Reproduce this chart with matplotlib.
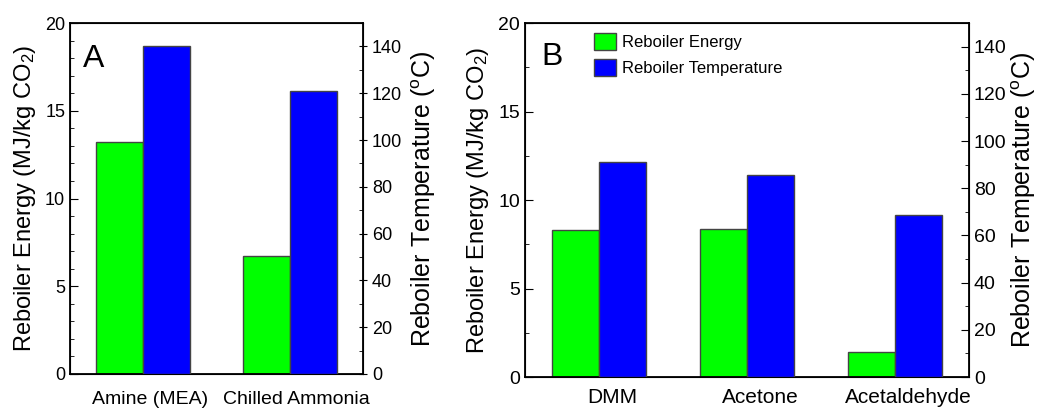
import numpy as np
import matplotlib
matplotlib.use('Agg')
import matplotlib.pyplot as plt
from matplotlib.patches import Patch
from matplotlib.ticker import MultipleLocator

plt.rcParams['font.family'] = ['Liberation Sans', 'DejaVu Sans']
plt.rcParams['mathtext.fontset'] = 'custom'
plt.rcParams['mathtext.rm'] = 'Liberation Sans'
plt.rcParams['mathtext.it'] = 'Liberation Sans:italic'

# ── Data ───────────────────────────────────────────────────────────────────
cats_a   = ['Amine (MEA)', 'Chilled Ammonia']
energy_a = [13.2, 6.7]
temp_a   = [140, 121]

cats_b   = ['DMM', 'Acetone', 'Acetaldehyde']
energy_b = [8.3, 8.35, 1.4]
temp_b   = [91, 85.5, 68.5]

GREEN = '#00FF00'
BLUE  = '#0000FF'
EDGE  = '#444444'
W     = 0.32

fig = plt.figure(figsize=(10.4, 4.09), dpi=100)


def panel(rect, cats, energy, temp, letter, letter_xy, minor_left, right_dir,
          xfs, yfs, lab_off, xpad, rpad, legend=False):
    ax = fig.add_axes(rect)
    x = np.arange(len(cats))
    ax.bar(x - W / 2, energy, W, color=GREEN, edgecolor=EDGE, linewidth=1)
    ax.set_xlim(-0.5, len(cats) - 0.5)
    ax.set_ylim(0, 20)
    ax.yaxis.set_major_locator(MultipleLocator(5))
    ax.yaxis.set_minor_locator(MultipleLocator(minor_left))
    ax.set_xticks(x + lab_off)
    ax.set_xticklabels(cats, fontsize=xfs)
    ax.tick_params(axis='x', length=0, pad=xpad)
    ax.tick_params(axis='y', which='major', direction='in', length=6, labelsize=yfs)
    ax.tick_params(axis='y', which='minor', direction='in', length=3)
    ax.set_ylabel('Reboiler Energy (MJ/kg CO$_2$)', fontsize=17, labelpad=5)
    for s in ax.spines.values():
        s.set_linewidth(1.3)

    ax2 = ax.twinx()
    ax2.bar(x + W / 2, temp, W, color=BLUE, edgecolor=EDGE, linewidth=1)
    ax2.set_ylim(0, 150)
    ax2.yaxis.set_major_locator(MultipleLocator(20))
    ax2.yaxis.set_minor_locator(MultipleLocator(10))
    ax2.tick_params(axis='y', which='major', direction=right_dir, length=6, labelsize=yfs)
    ax2.tick_params(axis='y', which='minor', direction='in', length=3)
    ax2.set_ylabel('Reboiler Temperature ($^{\\mathrm{o}}$C)', fontsize=18, labelpad=rpad)

    ax.text(letter_xy[0], letter_xy[1], letter, transform=ax.transAxes, fontsize=23)

    if legend:
        handles = [Patch(facecolor=GREEN, edgecolor=EDGE, label='Reboiler Energy'),
                   Patch(facecolor=BLUE, edgecolor=EDGE, label='Reboiler Temperature')]
        ax2.legend(handles=handles, loc='upper left', bbox_to_anchor=(0.155, 0.972),
                   frameon=False, fontsize=12, handlelength=1.32, handleheight=1.2,
                   handletextpad=0.38, labelspacing=0.54, borderpad=0,
                   borderaxespad=0)
    return ax


panel([0.0673, 0.0856, 0.2817, 0.858], cats_a, energy_a, temp_a, 'A', (0.044, 0.875),
      1, 'inout', 14, 13, 0.045, 12, 5)
panel([0.5048, 0.0782, 0.4269, 0.8655], cats_b, energy_b, temp_b, 'B', (0.038, 0.881),
      2.5, 'in', 15, 14, 0.09, 8, 2, legend=True)

fig.savefig('out.png', dpi=100)
